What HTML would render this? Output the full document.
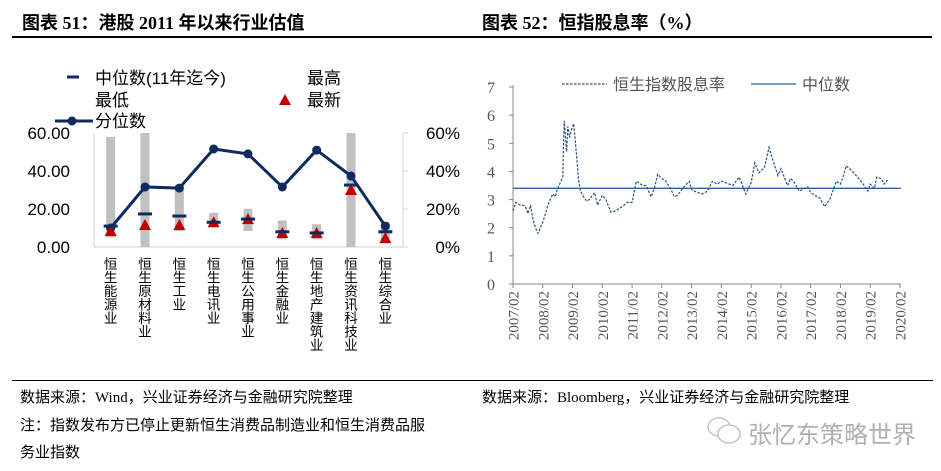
<!DOCTYPE html>
<html><head><meta charset="utf-8">
<style>
body{margin:0;background:#fff;}
#root{position:relative;width:941px;height:471px;overflow:hidden;background:#fff;font-family:"Liberation Sans","Noto Sans CJK SC",sans-serif;}
.t{position:absolute;white-space:nowrap;}
</style></head>
<body>
<div id="root">
<div class="t" style="left:22px;top:9px;font-size:18px;font-weight:bold;font-family:'Liberation Serif','Noto Sans CJK SC',serif;">图表 51：港股 2011 年以来行业估值</div>
<div class="t" style="left:482px;top:9px;font-size:18px;font-weight:bold;font-family:'Liberation Serif','Noto Sans CJK SC',serif;">图表 52：恒指股息率（%）</div>
<div style="position:absolute;left:12px;top:36px;width:920px;height:2px;background:#000;"></div>
<div style="position:absolute;left:12px;top:380px;width:921px;height:1px;background:#000;"></div>
<div class="t" style="left:20px;top:386px;font-size:15px;font-family:'Liberation Serif','Noto Sans CJK SC',serif;">数据来源：Wind，兴业证券经济与金融研究院整理</div>
<div class="t" style="left:20px;top:413px;font-size:15px;font-family:'Liberation Serif','Noto Sans CJK SC',serif;line-height:27px;">注：指数发布方已停止更新恒生消费品制造业和恒生消费品服<br>务业指数</div>
<div class="t" style="left:482px;top:386px;font-size:15px;font-family:'Liberation Serif','Noto Sans CJK SC',serif;">数据来源：Bloomberg，兴业证券经济与金融研究院整理</div>
<svg style="position:absolute;left:706px;top:416px" width="38" height="30"><ellipse cx="13" cy="11" rx="11" ry="9" fill="none" stroke="#bbb" stroke-width="1.3"/><ellipse cx="23" cy="18" rx="11" ry="9" fill="#fff" stroke="#bbb" stroke-width="1.3"/></svg>
<div class="t" style="left:748px;top:415px;font-size:24px;color:#b0b0b0;">张忆东策略世界</div>
<svg id="left" style="position:absolute;left:0;top:0" width="470" height="370"></svg>
<svg id="right" style="position:absolute;left:0;top:0" width="941" height="370"></svg>
</div>
<script>
const categories=["恒生能源业","恒生原材料业","恒生工业","恒生电讯业","恒生公用事业","恒生金融业","恒生地产建筑业","恒生资讯科技业","恒生综合业"];
const highs=[58,70,32.6,18,20,14,12,70,13];
const lows=[5,0,8.4,10.5,8.4,4,4,0,2];
const medians=[11,17.4,16.3,13,14.7,8,7.4,32.6,8];
const latest=[8.4,11.6,11.6,13,14.7,7.4,7.4,30,4.7];
const percentiles=[10,31.6,31,51.6,49,31.6,51,37.4,11];
const leftTicks=["0.00","20.00","40.00","60.00"];
const rightTicks=["0%","20%","40%","60%"];

const dates=[2007.08,2007.17,2007.25,2007.33,2007.42,2007.5,2007.58,2007.67,2007.75,2007.83,2007.92,2008.0,2008.08,2008.17,2008.25,2008.33,2008.42,2008.5,2008.58,2008.67,2008.75,2008.8,2008.88,2008.92,2008.98,2009.05,2009.12,2009.22,2009.28,2009.35,2009.45,2009.55,2009.65,2009.82,2009.92,2010.08,2010.2,2010.37,2010.53,2010.75,2010.92,2011.08,2011.22,2011.44,2011.55,2011.72,2011.83,2011.94,2012.08,2012.22,2012.39,2012.5,2012.61,2012.78,2013.0,2013.08,2013.28,2013.44,2013.61,2013.78,2013.94,2014.08,2014.23,2014.46,2014.68,2014.9,2015.08,2015.2,2015.34,2015.53,2015.68,2015.81,2015.98,2016.08,2016.19,2016.3,2016.41,2016.53,2016.7,2016.98,2017.08,2017.22,2017.39,2017.55,2017.72,2017.94,2018.08,2018.18,2018.27,2018.44,2018.61,2018.81,2019.0,2019.08,2019.22,2019.3,2019.44,2019.55,2019.66,2019.83,2020.0,2020.11];
const yields=[2.6,2.9,2.85,2.8,2.8,2.75,2.5,2.8,2.3,2.0,1.8,2.0,2.2,2.5,2.8,3.0,3.2,3.1,3.4,3.6,3.8,5.8,4.7,5.6,5.2,5.5,5.7,4.5,3.7,3.3,3.1,2.95,3.0,3.25,2.8,3.15,3.0,2.55,2.6,2.75,2.9,2.9,3.65,3.5,3.5,3.1,3.4,3.9,3.75,3.65,3.35,3.1,3.15,3.4,3.65,3.35,3.25,3.2,3.3,3.65,3.55,3.65,3.6,3.5,3.8,3.2,3.6,4.3,3.95,4.15,4.85,4.4,3.85,4.1,3.8,3.5,3.75,3.6,3.3,3.45,3.25,3.15,3.05,2.75,3.0,3.65,3.55,3.85,4.2,4.05,3.85,3.6,3.3,3.55,3.4,3.8,3.75,3.55,3.7];
const medianYield=3.4;
const yearTicks=["2007/02","2008/02","2009/02","2010/02","2011/02","2012/02","2013/02","2014/02","2015/02","2016/02","2017/02","2018/02","2019/02","2020/02"];
const yTicks=["0","1","2","3","4","5","6","7"];

const NS="http://www.w3.org/2000/svg";
function mk(p,tag,a,txt){const e=document.createElementNS(NS,tag);for(const k in a)e.setAttribute(k,a[k]);if(txt!==undefined)e.textContent=txt;p.appendChild(e);return e;}

// LEFT CHART
const L=document.getElementById('left');
const x0=94,x1=403,yb=247,yt=133;
const yL=v=>yb-(Math.min(v,60)/60)*(yb-yt);
const yR=v=>yb-(Math.min(v,60)/60)*(yb-yt);
const bw=(x1-x0)/categories.length;
const xc=i=>x0+bw*(i+0.5)-0.5;
let e;
e=mk(L,'line',{x1:x0,y1:yt,x2:x0,y2:yb,stroke:'#d0d0d0'});
e=mk(L,'line',{x1:x0,y1:yb,x2:x1,y2:yb,stroke:'#d0d0d0'});
e=mk(L,'line',{x1:x1,y1:yt,x2:x1,y2:yb,stroke:'#d0d0d0'});
leftTicks.forEach((t,i)=>{const v=i*20;
 e=mk(L,'text',{x:70,y:yL(v)+6,'text-anchor':'end','font-size':17,fill:'#000','font-family':'Liberation Sans,sans-serif'},t);});
rightTicks.forEach((t,i)=>{const v=i*20;
 e=mk(L,'line',{x1:x1,y1:yR(v),x2:x1+5,y2:yR(v),stroke:'#d0d0d0'});
 e=mk(L,'text',{x:460,y:yR(v)+6,'text-anchor':'end','font-size':17,fill:'#000','font-family':'Liberation Sans,sans-serif'},t);});
categories.forEach((c,i)=>{
 e=mk(L,'rect',{x:xc(i)-4.5,y:yL(highs[i]),width:9,height:yL(lows[i])-yL(highs[i]),fill:'#c0c0c0'});
});
const pts=percentiles.map((v,i)=>xc(i)+','+yR(v)).join(' ');
e=mk(L,'polyline',{points:pts,fill:'none',stroke:'#0e2a5e','stroke-width':3});
categories.forEach((c,i)=>{
 e=mk(L,'circle',{cx:xc(i),cy:yR(percentiles[i]),r:4.5,fill:'#0e2a5e'});
 const ty=yL(latest[i]);
 e=mk(L,'polygon',{points:`${xc(i)},${ty-6} ${xc(i)-6},${ty+5} ${xc(i)+6},${ty+5}`,fill:'#c00000'});
 e=mk(L,'rect',{x:xc(i)-7,y:yL(medians[i])-1.5,width:14,height:3,fill:'#0e2a5e'});
 e=mk(L,'text',{x:xc(i),y:257,'font-size':13.5,fill:'#000','writing-mode':'tb','font-family':'Noto Sans CJK SC,sans-serif','glyph-orientation-vertical':0},c);
});
// legend
e=mk(L,'rect',{x:67,y:75.5,width:12,height:3,fill:'#0e2a5e'});
const lf={'font-size':17,fill:'#000','font-family':'Liberation Sans,Noto Sans CJK SC,sans-serif'};
e=mk(L,'text',Object.assign({x:95,y:84},lf),'中位数(11年迄今)');
e=mk(L,'text',Object.assign({x:307,y:84},lf),'最高');
e=mk(L,'text',Object.assign({x:95,y:106},lf),'最低');
e=mk(L,'polygon',{points:'285,94 279,105 291,105',fill:'#c00000'});
e=mk(L,'text',Object.assign({x:307,y:106},lf),'最新');
e=mk(L,'line',{x1:55,y1:121,x2:93,y2:121,stroke:'#0e2a5e','stroke-width':3});
e=mk(L,'circle',{cx:72,cy:121,r:4.5,fill:'#0e2a5e'});
e=mk(L,'text',Object.assign({x:95,y:127},lf),'分位数');

// RIGHT CHART
const R=document.getElementById('right');
const rx0=513,rx1=900,ry0=284,ry7=87;
const xd=d=>rx0+(d-2007.08)/(2020.08-2007.08)*(rx1-rx0);
const yv=v=>ry0-v/7*(ry0-ry7);
e=mk(R,'line',{x1:rx0,y1:ry7-2,x2:rx0,y2:ry0,stroke:'#888'});
e=mk(R,'line',{x1:rx0,y1:ry0,x2:rx1+1,y2:ry0,stroke:'#888'});
yTicks.forEach((t,i)=>{
 e=mk(R,'line',{x1:rx0-4,y1:yv(i),x2:rx0,y2:yv(i),stroke:'#888'});
 e=mk(R,'text',{x:495,y:yv(i)+6,'text-anchor':'end','font-size':16,fill:'#555','font-family':'Liberation Serif,serif'},t);});
yearTicks.forEach((t,i)=>{const x=xd(2007.08+i);
 e=mk(R,'line',{x1:x,y1:ry0,x2:x,y2:ry0+4,stroke:'#888'});
 e=mk(R,'text',{x:0,y:0,transform:`translate(${x+5.5},${ry0+7}) rotate(-90)`,'text-anchor':'end','font-size':15,fill:'#555','font-family':'Liberation Serif,serif'},t);});
e=mk(R,'line',{x1:rx0,y1:yv(medianYield),x2:xd(dates[dates.length-1]),y2:yv(medianYield),stroke:'#2465a8','stroke-width':1.3});
e=mk(R,'polyline',{points:dates.map((d,i)=>xd(d)+','+yv(yields[i])).join(' '),fill:'none',stroke:'#2a4f7a','stroke-width':1.2,'stroke-dasharray':'2.5,1.5'});
e=mk(R,'line',{x1:562,y1:84,x2:607,y2:84,stroke:'#2a4f7a','stroke-width':1.2,'stroke-dasharray':'2.5,1.5'});
e=mk(R,'text',{x:613,y:90,'font-size':16,fill:'#555','font-family':'Noto Sans CJK SC,sans-serif'},'恒生指数股息率');
e=mk(R,'line',{x1:751,y1:84,x2:796,y2:84,stroke:'#2465a8','stroke-width':1.3});
e=mk(R,'text',{x:802,y:90,'font-size':16,fill:'#555','font-family':'Noto Sans CJK SC,sans-serif'},'中位数');
</script>
</body></html>
